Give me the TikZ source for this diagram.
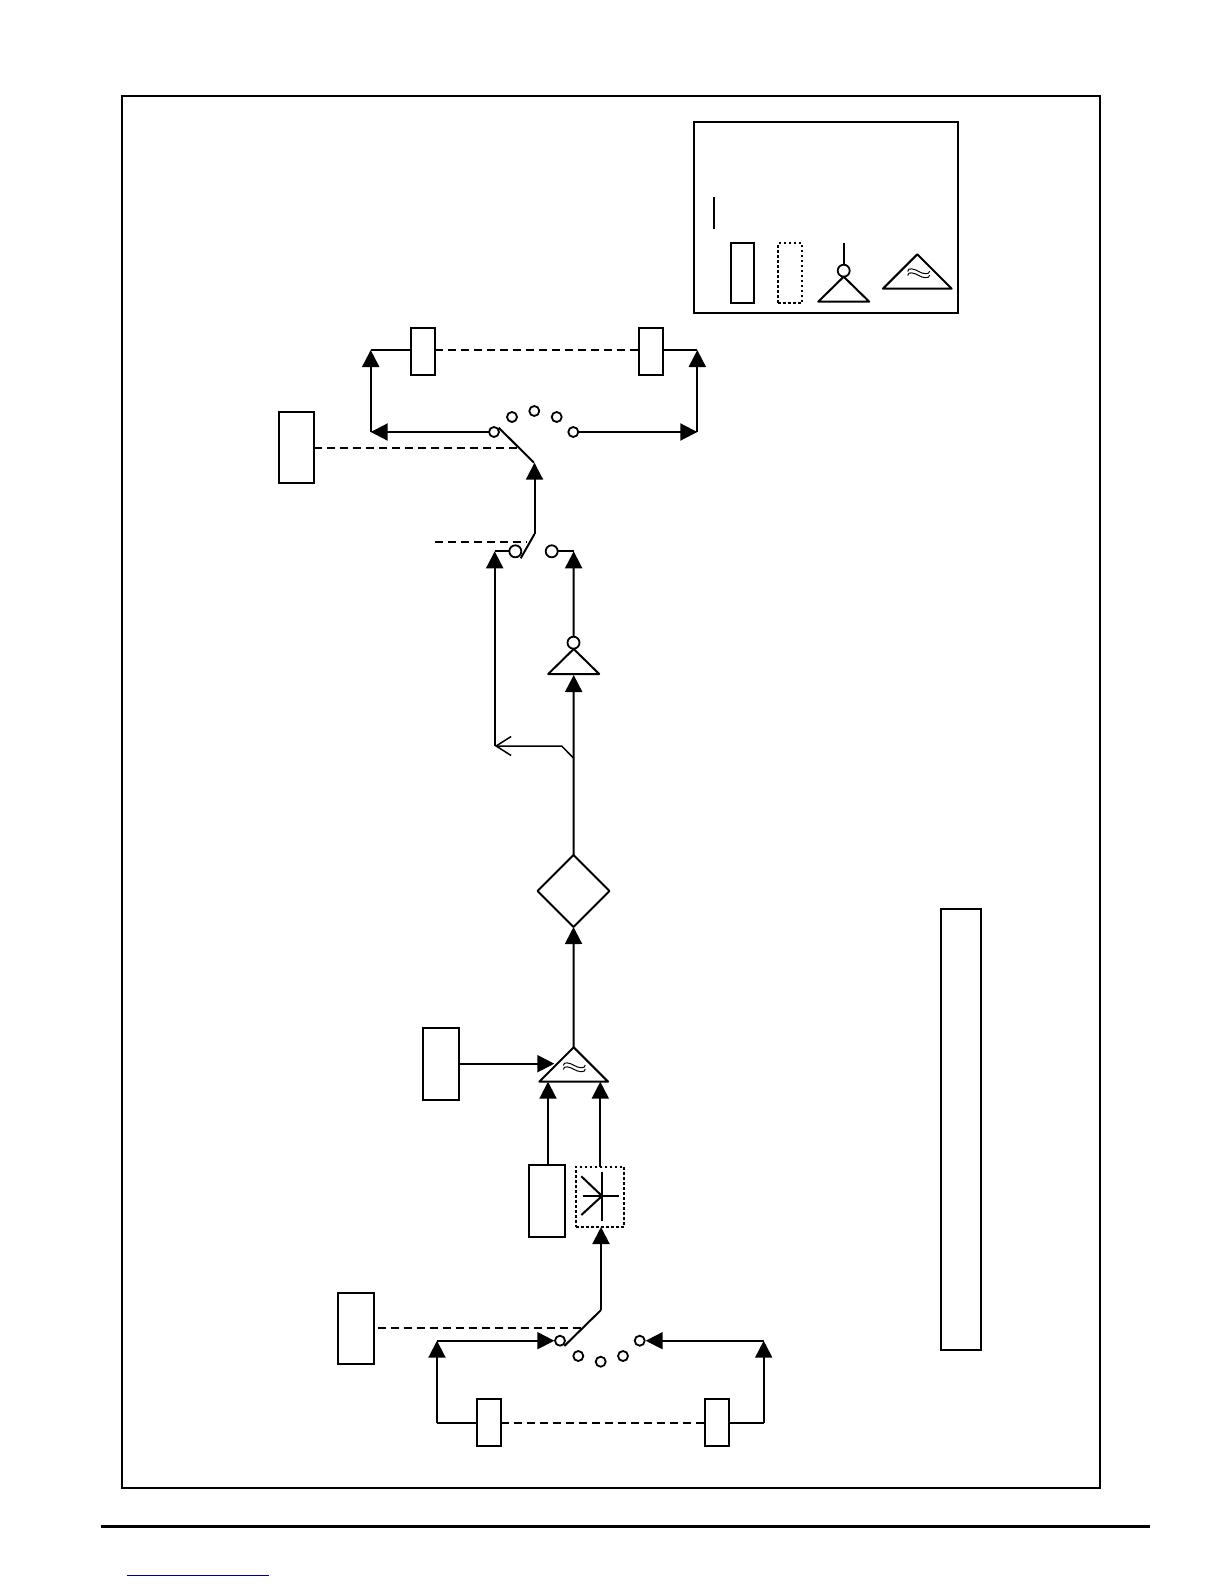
\documentclass[tikz,border=0pt]{standalone}
\usepackage{tikz}
\usetikzlibrary{arrows.meta}
\usetikzlibrary{shapes.geometric}
\pgfdeclarelayer{edgelayer}
\pgfdeclarelayer{nodelayer}
\pgfsetlayers{edgelayer,nodelayer,main}
\tikzstyle{none}=[inner sep=0pt,outer sep=0pt]
\tikzstyle{panel}=[rectangle,draw=black,line width=2pt,inner sep=0pt,outer sep=0pt]
\tikzstyle{relay}=[panel,fill=white,minimum width=24.5pt,minimum height=47pt]
\tikzstyle{block}=[panel,fill=white,minimum width=36.5pt,minimum height=72pt]
\tikzstyle{ghost}=[panel,fill=white,dash pattern=on 2.5pt off 2.5pt]
\tikzstyle{contact}=[circle,fill=white,draw=black,line width=1.8pt,minimum size=10pt,inner sep=0pt,outer sep=0pt]
\tikzstyle{bubble}=[contact,minimum size=12pt]
\tikzstyle{decision}=[diamond,fill=white,draw=black,line width=2pt,line join=round,minimum width=72pt,minimum height=72pt,inner sep=0pt,outer sep=0pt]
\tikzstyle{amp}=[isosceles triangle,isosceles triangle stretches,shape border rotate=90,anchor=apex,fill=white,draw=black,line width=2pt,line join=round,inner sep=0pt,outer sep=0pt,minimum height=25pt,minimum width=51pt]
\tikzstyle{mixer}=[amp,minimum height=34.4pt,minimum width=68.7pt]
\tikzstyle{wire}=[draw=black,line width=2pt]
\tikzstyle{transition}=[wire,-{Triangle[length=17pt,width=17pt]}]
\tikzstyle{link}=[draw=black,line width=2pt,dash pattern=on 8pt off 5pt]
\tikzstyle{tap}=[draw=black,line width=1.5pt,-{Straight Barb[length=15pt,width=19pt]}]
\tikzset{ripple/.pic={
	\draw [line width=1pt] (-11,-3.5) .. controls (-11,-8) and (-4,-6) .. (0,-3.5) .. controls (4,-1) and (11,0) .. (11,-4);
	\draw [line width=1pt] (-11,0.5) .. controls (-11,-4) and (-4,-2) .. (0,0.5) .. controls (4,3) and (11,4) .. (11,0);
}}

\begin{document}
\begin{tikzpicture}[x=1pt,y=-1pt]
	\useasboundingbox (0,0) rectangle (1224,1584);
	\begin{pgfonlayer}{nodelayer}
		\node [style=panel,minimum width=978pt,minimum height=1392pt] (0) at (611, 792) {};
		\node [style=panel,minimum width=264pt,minimum height=191pt] (1) at (826, 217.5) {};
		\node [style=panel,minimum width=40pt,minimum height=441pt] (2) at (960.5, 1129.5) {};
		% legend
		\node [style=none] (3) at (714, 197) {};
		\node [style=none] (4) at (714, 229) {};
		\node [style=relay,minimum width=23.5pt,minimum height=60pt] (5) at (742.5, 272.7) {};
		\node [style=ghost,minimum width=24pt,minimum height=60pt] (6) at (790, 273) {};
		\node [style=none] (7) at (843.7, 243) {};
		\node [style=bubble] (8) at (843.7, 270.7) {};
		\node [style=amp] (9) at (843.7, 276.7) {};
		\node [style=mixer] (10) at (917.3, 254.3) {};
		% upper selector
		\node [style=relay] (11) at (423, 351.3) {};
		\node [style=relay] (12) at (651, 351.3) {};
		\node [style=none] (13) at (370.7, 350) {};
		\node [style=none] (14) at (697.3, 350) {};
		\node [style=none] (15) at (370.7, 432) {};
		\node [style=none] (16) at (697.3, 432) {};
		\node [style=contact] (17) at (494, 432) {};
		\node [style=contact] (18) at (512, 417) {};
		\node [style=contact] (19) at (534.3, 411) {};
		\node [style=contact] (20) at (556.7, 417) {};
		\node [style=contact] (21) at (573.3, 432) {};
		\node [style=block,minimum width=35pt,minimum height=71pt] (22) at (296.5, 447.7) {};
		\node [style=none] (23) at (498.7, 427.7) {};
		\node [style=none] (24) at (534, 462.7) {};
		\node [style=none] (25) at (518, 447.7) {};
		% middle switch
		\node [style=none] (26) at (534.5, 534) {};
		\node [style=none] (27) at (520.7, 558.3) {};
		\node [style=none] (28) at (435.3, 541.7) {};
		\node [style=none] (29) at (527, 541.7) {};
		\node [style=bubble] (30) at (515.3, 551.3) {};
		\node [style=bubble] (31) at (551.7, 551.3) {};
		\node [style=none] (32) at (494.7, 551.3) {};
		\node [style=none] (33) at (573.7, 551.3) {};
		\node [style=bubble] (34) at (573.5, 642.7) {};
		\node [style=amp] (35) at (573.7, 649) {};
		\node [style=none] (36) at (573.7, 675) {};
		\node [style=none] (37) at (573.7, 758.3) {};
		\node [style=none] (38) at (561.7, 746) {};
		\node [style=none] (39) at (494.7, 746) {};
		\node [style=decision] (40) at (573.5, 891) {};
		\node [style=mixer] (41) at (573.7, 1047.3) {};
		% inputs
		\node [style=block] (42) at (441, 1064) {};
		\node [style=none] (43) at (459.3, 1063.7) {};
		\node [style=none] (44) at (554.3, 1063.7) {};
		\node [style=block] (45) at (547, 1201) {};
		\node [style=none] (46) at (548, 1081.7) {};
		\node [style=ghost,minimum width=48pt,minimum height=60.3pt] (47) at (600, 1196.8) {};
		\node [style=none] (48) at (600.3, 1081.7) {};
		\node [style=none] (49) at (602, 1171.7) {};
		\node [style=none] (50) at (602, 1220.7) {};
		\node [style=none] (51) at (582.7, 1196) {};
		\node [style=none] (52) at (619, 1196) {};
		\node [style=none] (53) at (581.3, 1176.3) {};
		\node [style=none] (54) at (581.3, 1215) {};
		\node [style=none] (55) at (602, 1196) {};
		% lower selector
		\node [style=block,minimum height=71.5pt] (56) at (356, 1328.5) {};
		\node [style=none] (57) at (377.7, 1327.7) {};
		\node [style=none] (58) at (581.7, 1327.7) {};
		\node [style=none] (59) at (601, 1310) {};
		\node [style=none] (60) at (564.3, 1346) {};
		\node [style=contact] (61) at (560, 1340.7) {};
		\node [style=contact] (62) at (578.3, 1356) {};
		\node [style=contact] (63) at (600.7, 1361.7) {};
		\node [style=contact] (64) at (623, 1356) {};
		\node [style=contact] (65) at (639.7, 1340.7) {};
		\node [style=none] (66) at (437, 1340.7) {};
		\node [style=none] (67) at (763.7, 1340.7) {};
		\node [style=none] (68) at (437, 1423) {};
		\node [style=none] (69) at (763.7, 1423) {};
		\node [style=relay] (70) at (488.8, 1422.4) {};
		\node [style=relay] (71) at (717, 1422.4) {};
		\node [style=none] (72) at (601, 1227) {};
		\node [style=none] (73) at (554.3, 1340.7) {};
		\node [style=none] (74) at (645.7, 1340.7) {};
		% page rules
		\node [style=none] (75) at (100.5, 1526.7) {};
		\node [style=none] (76) at (1150, 1526.7) {};
		\node [style=none] (77) at (127, 1575) {};
		\node [style=none] (78) at (268.7, 1575) {};
		\pic at (918.7, 275) {ripple};
		\pic at (574.3, 1069) {ripple};
	\end{pgfonlayer}
	\begin{pgfonlayer}{edgelayer}
		\draw [style=wire] (3.center) to (4.center);
		\draw [style=wire] (7.center) to (8);
		% upper selector
		\draw [style=wire] (13.center) to (13 -| 11.west);
		\draw [style=wire] (14.center) to (14 -| 12.east);
		\draw [style=link] (13 -| 11.east) to (14 -| 12.west);
		\draw [style=transition] (15.center) to (13.center);
		\draw [style=transition] (16.center) to (14.center);
		\draw [style=transition] (17) to (15.center);
		\draw [style=transition] (21) to (16.center);
		\draw [style=link] (22.east) to (25.center);
		\draw [style=wire] (23.center) to (24.center);
		% middle switch
		\draw [style=transition] (26.center) to (24 -| 26);
		\draw [style=wire] (26.center) to (27.center);
		\draw [style=link] (28.center) to (29.center);
		\draw [style=wire] (30) to (32.center);
		\draw [style=wire] (31) to (33.center);
		\draw [style=transition] (39.center) to (32.center);
		\draw [style=transition] (34) to (33.center);
		\draw [style=transition] (40.north) to (36.center);
		\draw [style=tap] (37.center) to (38.center) to (39.center);
		\draw [style=transition] (41.apex) to (40.south);
		% inputs
		\draw [style=transition] (43.center) to (44.center);
		\draw [style=transition] (45.north -| 46) to (46.center);
		\draw [style=transition] (47.north -| 48) to (48.center);
		% lower selector
		\draw [style=link] (57.center) to (58.center);
		\draw [style=wire] (59.center) to (60.center);
		\draw [style=transition] (59.center) to (72.center);
		\draw [style=transition] (66.center) to (73.center);
		\draw [style=transition] (67.center) to (74.center);
		\draw [style=transition] (68.center) to (66.center);
		\draw [style=transition] (69.center) to (67.center);
		\draw [style=wire] (68.center) to (68 -| 70.west);
		\draw [style=wire] (69.center) to (69 -| 71.east);
		\draw [style=link] (68 -| 70.east) to (69 -| 71.west);
		% page rules
		\draw [line width=3pt,draw=black] (75.center) to (76.center);
		\draw [line width=1pt,draw=blue!55!black] (77.center) to (78.center);
	\end{pgfonlayer}
	% star sits on top of the dotted box
	\draw [style=wire] (49.center) to (50.center);
	\draw [style=wire] (51.center) to (52.center);
	\draw [style=wire] (53.center) to (55.center);
	\draw [style=wire] (54.center) to (55.center);
\end{tikzpicture}
\end{document}
